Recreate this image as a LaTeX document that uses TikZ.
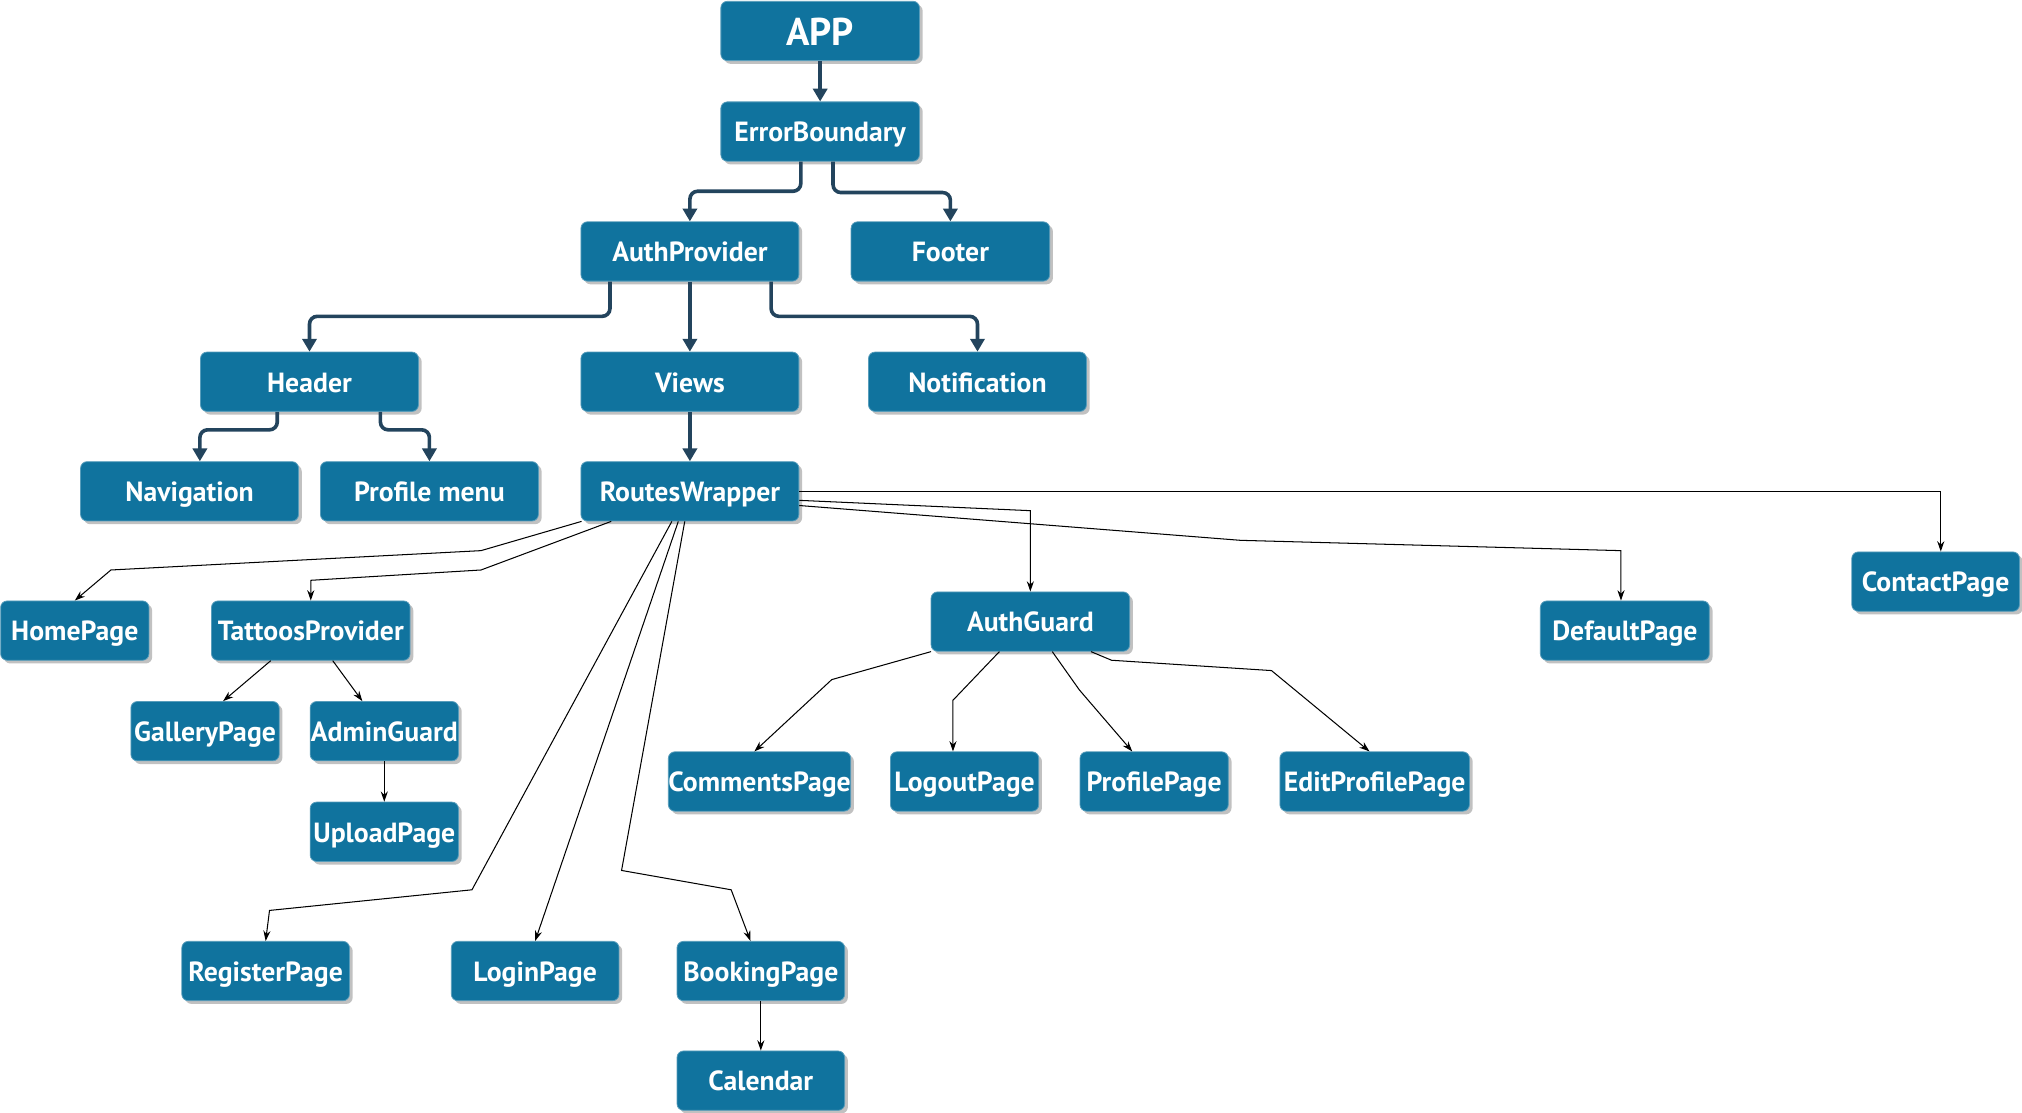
\documentclass[tikz,border=0pt]{standalone}
\usepackage{fontspec}
\setmainfont{PT Sans}
\usetikzlibrary{arrows.meta,shadows}
\definecolor{boxblue}{RGB}{16,115,158}
\definecolor{darkline}{RGB}{35,68,93}
\tikzset{
  box/.style={rounded corners=5pt, fill=boxblue, draw=boxblue!70!white, line width=0.6pt,
    text=white, font=\fontsize{21.5}{23}\selectfont\bfseries, minimum height=46pt,
    text height=16pt, text depth=0pt,
    inner sep=0pt, drop shadow={shadow xshift=2.5pt, shadow yshift=-2.5pt, fill=black!30, opacity=0.8}},
  thickedge/.style={draw=darkline, line width=2.8pt, rounded corners=6pt,
    -{Triangle[width=11pt,length=10pt]}},
  thinedge/.style={draw=black, line width=0.8pt, -{Stealth[length=8pt,width=5.5pt]}},
}
\begin{document}
\begin{tikzpicture}[x=1pt,y=-1pt]
\useasboundingbox (0,0) rectangle (1568,863);
% nodes
\node[box, minimum width=154pt, font=\fontsize{30}{32}\selectfont\bfseries, text height=22pt, text depth=0pt] (app) at (636,24) {APP};
\node[box, minimum width=154pt] (eb) at (636,102) {ErrorBoundary};
\node[box, minimum width=169pt] (ap) at (535,195) {AuthProvider};
\node[box, minimum width=154pt] (ft) at (737,195) {Footer};
\node[box, minimum width=169pt] (hd) at (240,296) {Header};
\node[box, minimum width=169pt] (vw) at (535,296) {Views};
\node[box, minimum width=169pt] (nt) at (758,296) {Notification};
\node[box, minimum width=169pt] (nv) at (147,381) {Navigation};
\node[box, minimum width=169pt] (pm) at (333,381) {Profile menu};
\node[box, minimum width=169pt] (rw) at (535,381) {RoutesWrapper};
\node[box, minimum width=115pt] (hp) at (58,489) {HomePage};
\node[box, minimum width=154pt] (tp) at (241,489) {TattoosProvider};
\node[box, minimum width=115pt] (gp) at (159,567) {GalleryPage};
\node[box, minimum width=115pt] (adg) at (298,567) {AdminGuard};
\node[box, minimum width=115pt] (up) at (298,645) {UploadPage};
\node[box, minimum width=154pt] (ag) at (799,482) {AuthGuard};
\node[box, minimum width=131pt] (dp) at (1260,489) {DefaultPage};
\node[box, minimum width=130pt] (cp) at (1501,451) {ContactPage};
\node[box, minimum width=139pt] (cm) at (589,606) {CommentsPage};
\node[box, minimum width=115pt] (lo) at (748,606) {LogoutPage};
\node[box, minimum width=115pt] (pp) at (895,606) {ProfilePage};
\node[box, minimum width=147pt] (ep) at (1066,606) {EditProfilePage};
\node[box, minimum width=130pt] (rg) at (206,753) {RegisterPage};
\node[box, minimum width=130pt] (ln) at (415,753) {LoginPage};
\node[box, minimum width=130pt] (bk) at (590,753) {BookingPage};
\node[box, minimum width=130pt] (cal) at (590,838) {Calendar};
% thick edges
\draw[thickedge] (app.south) -- (eb.north);
\draw[thickedge] ([xshift=-15pt]eb.south) -- ++(0,23) -| (ap.north);
\draw[thickedge] ([xshift=10pt]eb.south) -- ++(0,24) -| (ft.north);
\draw[thickedge] ([xshift=-62pt]ap.south) -- ++(0,27) -| (hd.north);
\draw[thickedge] (ap.south) -- (vw.north);
\draw[thickedge] ([xshift=63pt]ap.south) -- ++(0,27) -| (nt.north);
\draw[thickedge] ([xshift=-25pt]hd.south) -- ++(0,14) -| ([xshift=8pt]nv.north);
\draw[thickedge] ([xshift=55pt]hd.south) -- ++(0,14) -| (pm.north);
\draw[thickedge] (vw.south) -- (rw.north);
% thin edges
\draw[thinedge] ([xshift=-84pt]rw.south) -- (373,427) -- (86,442) -- (hp.north);
\draw[thinedge] ([xshift=-61pt]rw.south) -- (373,442) -- (241,450) -- (tp.north);
\draw[thinedge] ([xshift=-14pt]rw.south) -- (366,690) -- (209,706) -- (rg.north);
\draw[thinedge] ([xshift=-9pt]rw.south) -- (ln.north);
\draw[thinedge] ([xshift=-4pt]rw.south) -- (482,675) -- (567,690) -- ([xshift=-8pt]bk.north);
\draw[thinedge] ([yshift=-7pt]rw.east) -- (799,396) -- (ag.north);
\draw[thinedge] ([yshift=-11pt]rw.east) -- (962,419) -- (1257,427) -- ([xshift=-3pt]dp.north);
\draw[thinedge] (rw.east) -| ([xshift=4pt]cp.north);
\draw[thinedge] ([xshift=-31pt]tp.south) -- ([xshift=14pt]gp.north);
\draw[thinedge] ([xshift=17pt]tp.south) -- ([xshift=-17pt]adg.north);
\draw[thinedge] (adg.south) -- (up.north);
\draw[thinedge] ([xshift=-77pt]ag.south) -- (645,527) -- ([xshift=-4pt]cm.north);
\draw[thinedge] ([xshift=-24pt]ag.south) -- (739,543) -- ([xshift=-9pt]lo.north);
\draw[thinedge] ([xshift=17pt]ag.south) -- (837,535) -- ([xshift=-17pt]pp.north);
\draw[thinedge] ([xshift=47pt]ag.south) -- (862,512) -- (986,520) -- ([xshift=-4pt]ep.north);
\draw[thinedge] (bk.south) -- (cal.north);
\end{tikzpicture}
\end{document}
